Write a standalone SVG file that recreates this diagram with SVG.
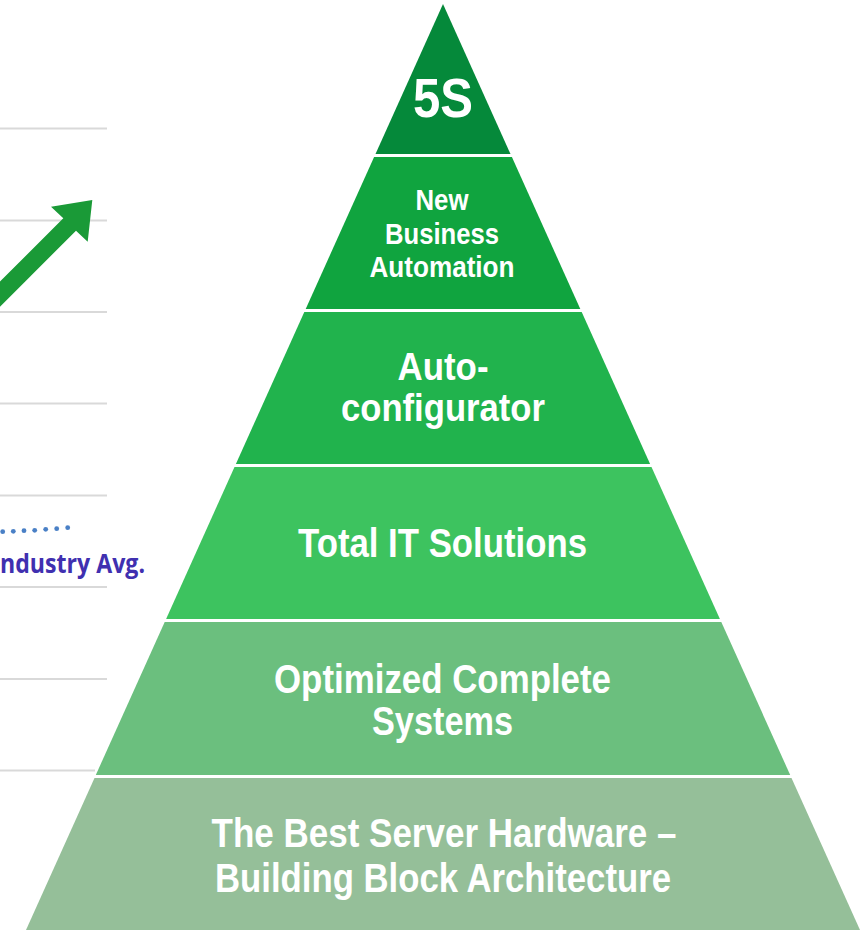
<svg xmlns="http://www.w3.org/2000/svg" width="868" height="930" viewBox="0 0 868 930">
<style>
.grid{stroke:#d9d9d9;stroke-width:2;fill:none}
.lbl{font-family:"Liberation Sans",Arial,sans-serif;font-weight:bold;fill:#ffffff;text-anchor:middle}
.dot{fill:#4a80c6}
</style>
<rect width="868" height="930" fill="#ffffff"/>
<g id="chart">
<line class="grid" x1="0" y1="128.5" x2="107" y2="128.5"/>
<line class="grid" x1="0" y1="220.5" x2="107" y2="220.5"/>
<line class="grid" x1="0" y1="312" x2="107" y2="312"/>
<line class="grid" x1="0" y1="403.5" x2="107" y2="403.5"/>
<line class="grid" x1="0" y1="495.5" x2="107" y2="495.5"/>
<line class="grid" x1="0" y1="587" x2="107" y2="587"/>
<line class="grid" x1="0" y1="679" x2="107" y2="679"/>
<line class="grid" x1="0" y1="770.5" x2="95" y2="770.5"/>
<polygon points="92.3,200 87.7,241.7 76,230.7 -10,316.7 -10,291.6 63.3,218.3 51,206.7" fill="#1a9a37"/>
<circle class="dot" cx="2.7" cy="531.7" r="2.4"/>
<circle class="dot" cx="13.3" cy="531.3" r="2.4"/>
<circle class="dot" cx="24" cy="530.7" r="2.4"/>
<circle class="dot" cx="34.7" cy="530.3" r="2.4"/>
<circle class="dot" cx="45.7" cy="529.3" r="2.4"/>
<circle class="dot" cx="56.7" cy="528.7" r="2.4"/>
<circle class="dot" cx="67.7" cy="527.7" r="2.4"/>
<text x="0" y="573" font-family="'Open Sans','Noto Sans',sans-serif" font-weight="bold" font-size="27" fill="#4030b0" textLength="145" lengthAdjust="spacingAndGlyphs">ndustry Avg.</text>
</g>
<g id="level-5s">
<polygon points="443,4 510.5,154 375.5,154" fill="#05893a"/>
<text class="lbl" x="443" y="117" font-size="56" textLength="60" lengthAdjust="spacingAndGlyphs">5S</text>
</g>
<g id="level-new-business-automation">
<polygon points="374.1,157 511.9,157 580.3,309 305.7,309" fill="#10a43f"/>
<text class="lbl" x="442" y="210" font-size="29" textLength="53" lengthAdjust="spacingAndGlyphs">New</text>
<text class="lbl" x="442" y="243.5" font-size="29" textLength="114" lengthAdjust="spacingAndGlyphs">Business</text>
<text class="lbl" x="442" y="277" font-size="29" textLength="145" lengthAdjust="spacingAndGlyphs">Automation</text>
</g>
<g id="level-auto-configurator">
<polygon points="304.3,312 581.7,312 650.1,464 235.9,464" fill="#21b34d"/>
<text class="lbl" x="443" y="380" font-size="38" textLength="91" lengthAdjust="spacingAndGlyphs">Auto-</text>
<text class="lbl" x="443" y="421" font-size="38" textLength="204" lengthAdjust="spacingAndGlyphs">configurator</text>
</g>
<g id="level-total-it">
<polygon points="234.5,467 651.5,467 719.9,619 166.1,619" fill="#3dc35f"/>
<text class="lbl" x="442.5" y="557" font-size="40" textLength="289" lengthAdjust="spacingAndGlyphs">Total IT Solutions</text>
</g>
<g id="level-optimized">
<polygon points="164.7,622 721.3,622 790.2,775 95.8,775" fill="#6bbf7e"/>
<text class="lbl" x="442.5" y="693" font-size="40" textLength="337" lengthAdjust="spacingAndGlyphs">Optimized Complete</text>
<text class="lbl" x="442.5" y="735" font-size="40" textLength="141" lengthAdjust="spacingAndGlyphs">Systems</text>
</g>
<g id="level-hardware">
<polygon points="94.5,778 791.5,778 860,930 26,930" fill="#95bf99"/>
<text class="lbl" x="444" y="847" font-size="40" textLength="465" lengthAdjust="spacingAndGlyphs">The Best Server Hardware –</text>
<text class="lbl" x="443" y="892" font-size="40" textLength="456" lengthAdjust="spacingAndGlyphs">Building Block Architecture</text>
</g>
<g id="connectors"></g>
</svg>
